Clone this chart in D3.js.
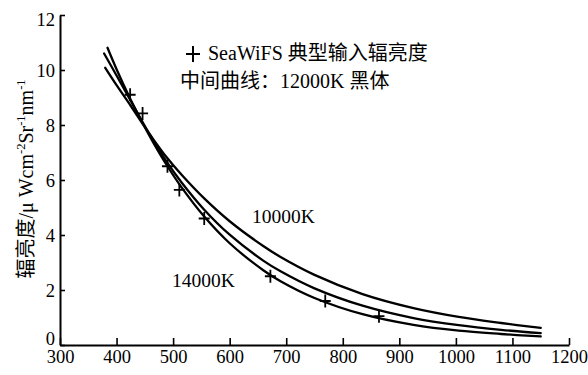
<!DOCTYPE html>
<html>
<head>
<meta charset="utf-8">
<script src="https://cdn.jsdelivr.net/npm/d3@7"></script>
<style>
  html, body { margin: 0; padding: 0; background: #fff; }
  svg { display: block; }
  text { fill: #000; }
</style>
</head>
<body>
<svg id="chart" width="588" height="375"></svg>
<script>
// Scaled blackbody curves (10000K, 12000K, 14000K) and SeaWiFS typical input radiance
const wl10000K = [380, 400, 425, 445, 465, 490, 515, 555, 600, 660, 690, 750, 835, 925, 1005, 1080, 1150];
const rad10000K = [10.08, 9.45, 8.70, 8.08, 7.48, 6.79, 6.19, 5.33, 4.50, 3.59, 3.20, 2.55, 1.85, 1.34, 1.02, 0.80, 0.62];

const wl12000K = [378, 400, 425, 445, 465, 490, 515, 555, 600, 660, 690, 750, 835, 925, 1005, 1080, 1150];
const rad12000K = [10.60, 9.80, 8.88, 8.14, 7.43, 6.62, 5.91, 4.92, 4.01, 3.06, 2.68, 2.06, 1.43, 0.98, 0.72, 0.55, 0.43];

const wl14000K = [384, 400, 425, 445, 465, 490, 515, 555, 600, 660, 690, 750, 835, 925, 1005, 1080, 1150];
const rad14000K = [10.81, 10.03, 8.92, 8.11, 7.36, 6.50, 5.73, 4.67, 3.70, 2.71, 2.32, 1.71, 1.12, 0.73, 0.52, 0.40, 0.31];

const bandWavelengths = [424, 446, 490, 511, 555, 672, 769, 864];
const typicalRadiance = [9.10, 8.42, 6.50, 5.64, 4.60, 2.50, 1.60, 1.05];

const xTicks = [300, 400, 500, 600, 700, 800, 900, 1000, 1100, 1200];
const yTicks = [0, 2, 4, 6, 8, 10, 12];

const latin = "'Liberation Serif', 'Times New Roman', serif";
const cjk = "'Noto Sans CJK SC', sans-serif";

const svg = d3.select("#chart");
const x = d3.scaleLinear().domain([300, 1200]).range([60, 569]);
const y = d3.scaleLinear().domain([0, 12]).range([345, 15]);

// Axes with inward ticks
const xAxis = d3.axisBottom(x).tickValues(xTicks).tickSize(-7).tickSizeOuter(0).tickFormat(d3.format("d"));
const yAxis = d3.axisLeft(y).tickValues(yTicks).tickSize(-5).tickSizeOuter(0).tickPadding(5).tickFormat(d3.format("d"));

const gx = svg.append("g").attr("transform", "translate(0,345)").call(xAxis);
const gy = svg.append("g").attr("transform", "translate(60,0)").call(yAxis);

[gx, gy].forEach(g => {
  g.attr("font-family", latin).attr("font-size", 18.5);
  g.select(".domain").attr("stroke", "#000").attr("stroke-width", 2);
  g.selectAll(".tick line").attr("stroke", "#000").attr("stroke-width", 1.6);
  g.selectAll(".tick text")
    .attr("font-family", latin)
    .attr("font-size", 18.5)
    .attr("fill", "#000");
});
gx.selectAll(".tick text").attr("y", 5).attr("dy", "0.71em");
gy.selectAll(".tick text").attr("dy", d => d === 0 ? "-0.05em" : d === 12 ? "0.55em" : "0.34em");

// Curves
const line = d3.line()
  .x(d => x(d[0]))
  .y(d => y(d[1]))
  .curve(d3.curveCatmullRom.alpha(0.5));

const curves = [
  d3.zip(wl10000K, rad10000K),
  d3.zip(wl12000K, rad12000K),
  d3.zip(wl14000K, rad14000K)
];

svg.append("g")
  .selectAll("path")
  .data(curves)
  .join("path")
  .attr("d", line)
  .attr("fill", "none")
  .attr("stroke", "#000")
  .attr("stroke-width", 2.3)
  .attr("stroke-linecap", "round");

// SeaWiFS typical radiance markers
const plus = (w, h) => `M${-w / 2},0H${w / 2}M0,${-h / 2}V${h / 2}`;
svg.append("g")
  .selectAll("path")
  .data(d3.zip(bandWavelengths, typicalRadiance))
  .join("path")
  .attr("transform", d => `translate(${x(d[0])},${y(d[1])})`)
  .attr("d", plus(11, 13))
  .attr("stroke", "#000")
  .attr("stroke-width", 1.8)
  .attr("fill", "none");

// Legend
svg.append("path")
  .attr("transform", "translate(193,54)")
  .attr("d", plus(14, 16))
  .attr("stroke", "#000")
  .attr("stroke-width", 2);

const leg1 = svg.append("text").attr("x", 208).attr("y", 60).attr("font-size", 20);
leg1.append("tspan").attr("font-family", latin).text("SeaWiFS ");
leg1.append("tspan").attr("font-family", cjk).text("典型输入辐亮度");

const leg2 = svg.append("text").attr("x", 180).attr("y", 88).attr("font-size", 20);
leg2.append("tspan").attr("font-family", cjk).text("中间曲线：");
leg2.append("tspan").attr("font-family", latin).text("12000K ");
leg2.append("tspan").attr("font-family", cjk).text("黑体");

// Curve labels
svg.append("text")
  .attr("x", 252).attr("y", 222.5)
  .attr("font-family", latin).attr("font-size", 19.5)
  .text("10000K");

svg.append("text")
  .attr("x", 172).attr("y", 286.5)
  .attr("font-family", latin).attr("font-size", 19.5)
  .text("14000K");

// Y axis title with superscripts
const yt = svg.append("text")
  .attr("transform", "translate(33,179) rotate(-90)")
  .attr("text-anchor", "middle")
  .attr("font-size", 20);
yt.append("tspan").attr("font-family", cjk).text("辐亮度");
yt.append("tspan").attr("font-family", latin).text("/μ Wcm");
yt.append("tspan").attr("font-family", latin).attr("font-size", 12.5).attr("dy", -8).text("-2");
yt.append("tspan").attr("font-family", latin).attr("dy", 8).text("Sr");
yt.append("tspan").attr("font-family", latin).attr("font-size", 12.5).attr("dy", -8).text("-1");
yt.append("tspan").attr("font-family", latin).attr("dy", 8).text("nm");
yt.append("tspan").attr("font-family", latin).attr("font-size", 12.5).attr("dy", -8).text("-1");
</script>
</body>
</html>
